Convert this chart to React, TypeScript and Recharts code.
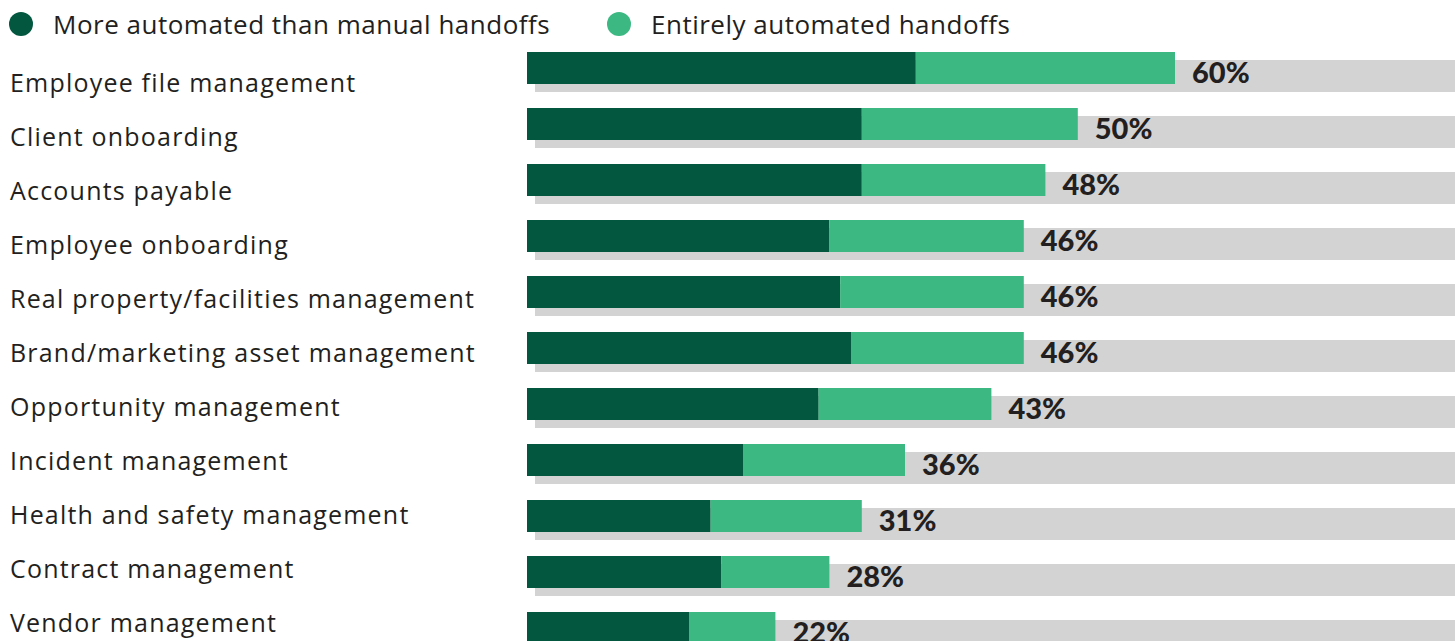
import React from 'react';
import { Bar, BarChart, LabelList, Legend, XAxis, YAxis } from 'recharts';

const categories = [
  'Employee file management',
  'Client onboarding',
  'Accounts payable',
  'Employee onboarding',
  'Real property/facilities management',
  'Brand/marketing asset management',
  'Opportunity management',
  'Incident management',
  'Health and safety management',
  'Contract management',
  'Vendor management',
];
const moreAutomated = [36, 31, 31, 28, 29, 30, 27, 20, 17, 18, 15];
const entirelyAutomated = [24, 20, 17, 18, 17, 16, 16, 15, 14, 10, 8];
const totalLabels = ['60%', '50%', '48%', '46%', '46%', '46%', '43%', '36%', '31%', '28%', '22%'];
const seriesNames = ['More automated than manual handoffs', 'Entirely automated handoffs'];

const DARK = '#03573f';
const LIGHT = '#3cb983';
const TRACK = '#d3d3d3';
const TEXT = '#231f20';
const FONT = '"Open Sans", sans-serif';
const BOLD_FONT = 'Lato, sans-serif';

const data = categories.map((category, i) => ({
  category,
  more: moreAutomated[i],
  entirely: entirelyAutomated[i],
  total: totalLabels[i],
}));

const CategoryTick = (props: any) => {
  const { y, payload } = props;
  return (
    <text x={10} y={y + 8} fill={TEXT} fontSize={25} letterSpacing={1.2} fontFamily={FONT}>
      {payload.value}
    </text>
  );
};

const TrackBackground = (props: any) => (
  <rect x={props.x + 8} y={props.y + 8} width={props.width} height={props.height} fill={TRACK} />
);

const TotalLabel = (props: any) => {
  const { x, y, width, value } = props;
  return (
    <text x={x + width + 17} y={y + 31} fill={TEXT} fontSize={29} fontWeight={900} fontFamily={BOLD_FONT}>
      {value}
    </text>
  );
};

const LegendContent = () => (
  <div style={{ position: 'relative', height: 48, fontFamily: FONT, fontSize: 26, letterSpacing: 0.5, color: TEXT }}>
    {seriesNames.map((name, i) => (
      <div
        key={name}
        style={{ position: 'absolute', left: i === 0 ? 9 : 607, top: 6, display: 'flex', alignItems: 'center' }}
      >
        <span
          style={{
            width: 24,
            height: 24,
            borderRadius: 12,
            background: i === 0 ? DARK : LIGHT,
            display: 'inline-block',
            marginRight: 20,
          }}
        />
        <span>{name}</span>
      </div>
    ))}
  </div>
);

export default function App() {
  return (
    <div style={{ position: 'absolute', left: 0, top: 0, width: 1455, height: 641, overflow: 'hidden', background: '#fff' }}>
      <BarChart
        width={1607}
        height={656}
        data={data}
        layout="vertical"
        margin={{ top: 40, right: 0, bottom: 0, left: 0 }}
      >
        <XAxis type="number" domain={[0, 100]} hide />
        <YAxis yAxisId="bars" type="category" dataKey="category" hide />
        <YAxis
          yAxisId="labels"
          type="category"
          dataKey="category"
          width={527}
          axisLine={false}
          tickLine={false}
          padding={{ top: 17, bottom: 5 }}
          tick={<CategoryTick />}
          interval={0}
        />
        <Legend
          layout="horizontal"
          verticalAlign="middle"
          align="center"
          wrapperStyle={{ top: 0, left: 0, width: 1455 }}
          content={<LegendContent />}
        />
        <Bar
          yAxisId="bars"
          dataKey="more"
          name={seriesNames[0]}
          stackId="a"
          fill={DARK}
          barSize={32}
          background={TrackBackground}
          isAnimationActive={false}
        />
        <Bar
          yAxisId="bars"
          dataKey="entirely"
          name={seriesNames[1]}
          stackId="a"
          fill={LIGHT}
          barSize={32}
          isAnimationActive={false}
        >
          <LabelList dataKey="total" content={<TotalLabel />} />
        </Bar>
      </BarChart>
    </div>
  );
}
